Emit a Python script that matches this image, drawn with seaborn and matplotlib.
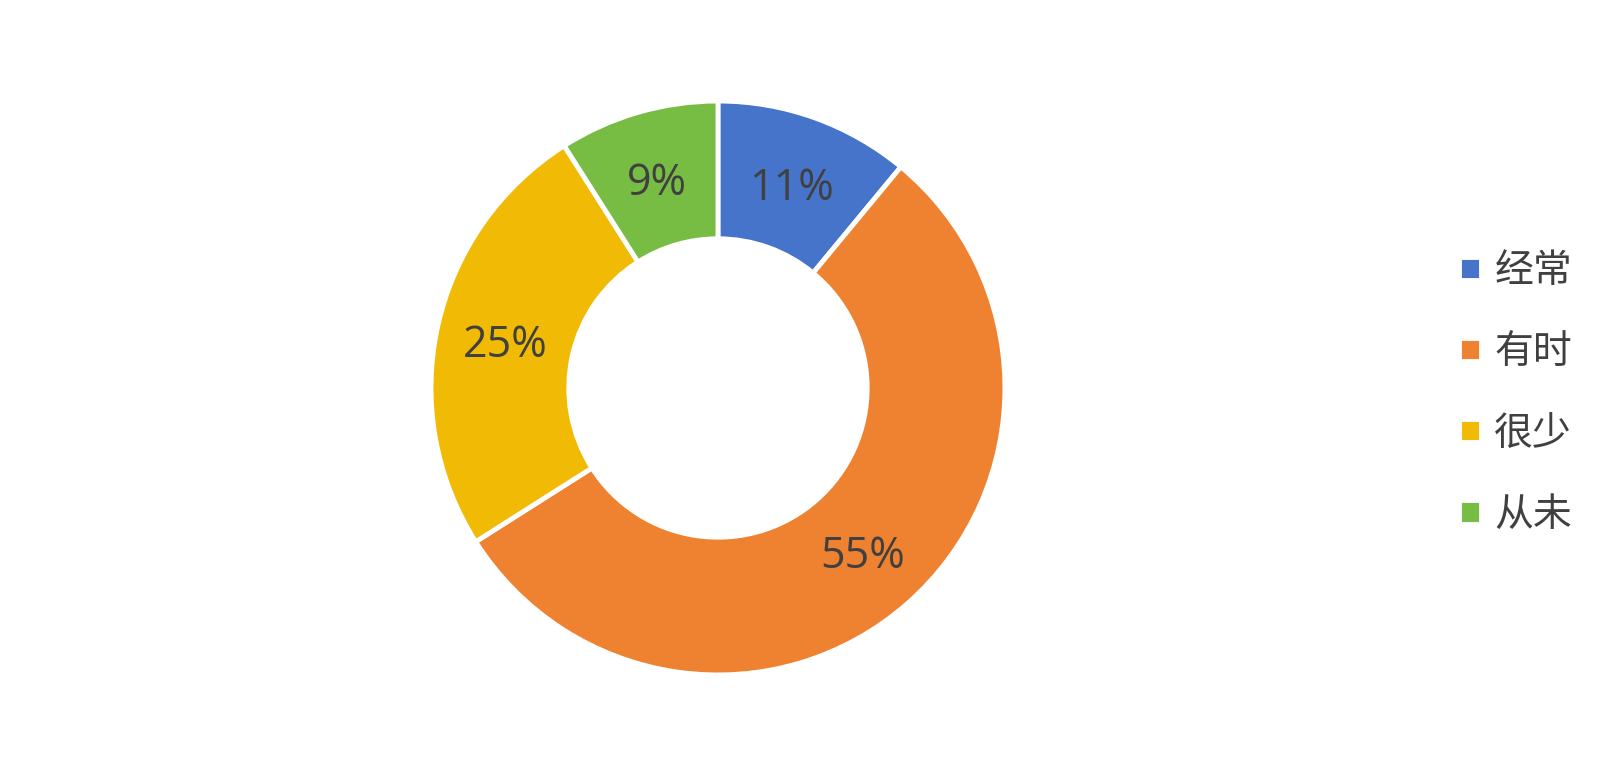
import seaborn as sns
import matplotlib.pyplot as plt

# 频率分布
categories = ['经常', '有时', '很少', '从未']
shares = [11, 55, 25, 9]
colors = ['#4674CA', '#EE8230', '#F1BA04', '#77BC43']

sns.set_theme(style='white')
plt.rcParams['font.family'] = ['Noto Sans CJK SC', 'DejaVu Sans']

fig = plt.figure(figsize=(16.24, 7.78), dpi=100)
# 圆环区域: 中心约 (718, 388), 外半径约 287px
ax = fig.add_axes([0.2654, 0.1324, 0.3534, 0.7378])

wedges, texts, autotexts = ax.pie(
    shares,
    colors=colors,
    startangle=90,
    counterclock=False,
    radius=1.0,
    autopct='%d%%',
    pctdistance=0.76,
    wedgeprops=dict(width=0.48, edgecolor='white', linewidth=3.5),
    textprops=dict(color='#404040', fontsize=31),
)
for t in autotexts:
    t.set_fontfamily(['Open Sans', 'DejaVu Sans'])
    t.set_va('center_baseline')
ax.set_xlim(-1, 1)
ax.set_ylim(-1, 1)
ax.set_aspect('equal')
ax.axis('off')

fig.legend(
    wedges, categories,
    loc='center left',
    bbox_to_anchor=(0.877, 0.495),
    frameon=False,
    fontsize=28,
    labelcolor='#404040',
    handlelength=0.55,
    handleheight=0.55,
    handletextpad=0.35,
    labelspacing=1.06,
)

fig.savefig('out.png', dpi=100, facecolor='white')
